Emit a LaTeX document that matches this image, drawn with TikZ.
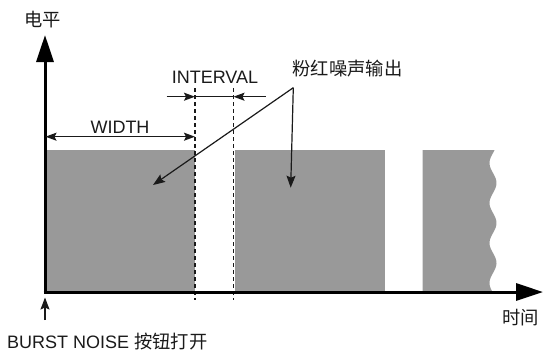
\documentclass[tikz,border=0pt]{standalone}
\usepackage{fontspec}
\setmainfont{Liberation Sans}
\newfontfamily\cjk{Noto Sans CJK SC}
\usetikzlibrary{arrows.meta}
\definecolor{blockgray}{HTML}{999999}
\definecolor{inkc}{HTML}{1A1A1A}
\begin{document}
\begin{tikzpicture}[x=1pt,y=-1pt,
  lbl/.style={inner sep=0pt,text=inkc,font=\fontsize{18}{20}\selectfont},
  cjklbl/.style={inner sep=0pt,text=inkc,font=\fontsize{18.3}{20}\selectfont\cjk},
  axis/.style={line width=3pt,draw=black,-{Triangle[length=27pt,width=17pt]}},
  dim/.style={line width=1.3pt,draw=inkc,-{Stealth[length=11pt,width=8pt,inset=2pt]}},
  ptr/.style={line width=1.2pt,draw=inkc,-{Stealth[length=12pt,width=9pt,inset=2pt]}},
  guide/.style={line width=1.5pt,draw=inkc,dash pattern=on 4pt off 3pt}]
\useasboundingbox (0,0) rectangle (544,354);
% blocks
\fill[blockgray] (45,150) rectangle (195,292);
\fill[blockgray] (234.5,150) rectangle (385,292);
\fill[blockgray] (422.7,150) -- (494.6,150)
  -- plot[domain=150:292,samples=80,variable=\t] ({493-3.5*cos((\t-163)*9)},\t)
  -- (422.7,292) -- cycle;
% coordinates
\coordinate (O) at (45,292);
\coordinate (ytop) at (45,35);
\coordinate (xend) at (543,292);
\coordinate (g1t) at (195,88);
\coordinate (g1b) at (195,300);
\coordinate (g2t) at (233.5,88);
\coordinate (g2b) at (233.5,300);
\coordinate (wl) at (45.5,136.7);
\coordinate (wr) at (195,136.7);
\coordinate (il) at (166.7,96.7);
\coordinate (ila) at (195,96.7);
\coordinate (ir) at (265.7,96.7);
\coordinate (ira) at (233.5,96.7);
\coordinate (pn) at (293.3,87.7);
\coordinate (pt1) at (153,185);
\coordinate (pt2) at (290.7,187.7);
\coordinate (bs) at (45,320);
\coordinate (bt) at (45,297.5);
% guides
\draw[guide] (g1t) -- (g1b);
\draw[guide] (g2t) -- (g2b);
% axes
\draw[axis] (45,293.5) -- (ytop);
\draw[axis] (43.5,292) -- (xend);
% dimension arrows
\draw[dim,{Stealth[length=11pt,width=8pt,inset=2pt]}-{Stealth[length=11pt,width=8pt,inset=2pt]}] (wl) -- (wr);
\draw[line width=1.3pt,draw=inkc] (ila) -- (ira);
\draw[dim] (il) -- (ila);
\draw[dim] (ir) -- (ira);
\draw[ptr] (pn) -- (pt1);
\draw[ptr] (pn) -- (pt2);
\draw[ptr] (bs) -- (bt);
% labels
\node[cjklbl] (ylab) at (42.5,19.5) {电平};
\node[cjklbl] (xlab) at (520.5,318) {时间};
\node[lbl] (interval) at (215,77) {INTERVAL};
\node[lbl] (width) at (120,127) {WIDTH};
\node[cjklbl] (pink) at (347.5,69) {粉红噪声输出};
\node[lbl,anchor=west] (burst) at (7,341.5) {BURST NOISE {\cjk\fontsize{18.3}{20}\selectfont 按钮打开}};
\end{tikzpicture}
\end{document}
